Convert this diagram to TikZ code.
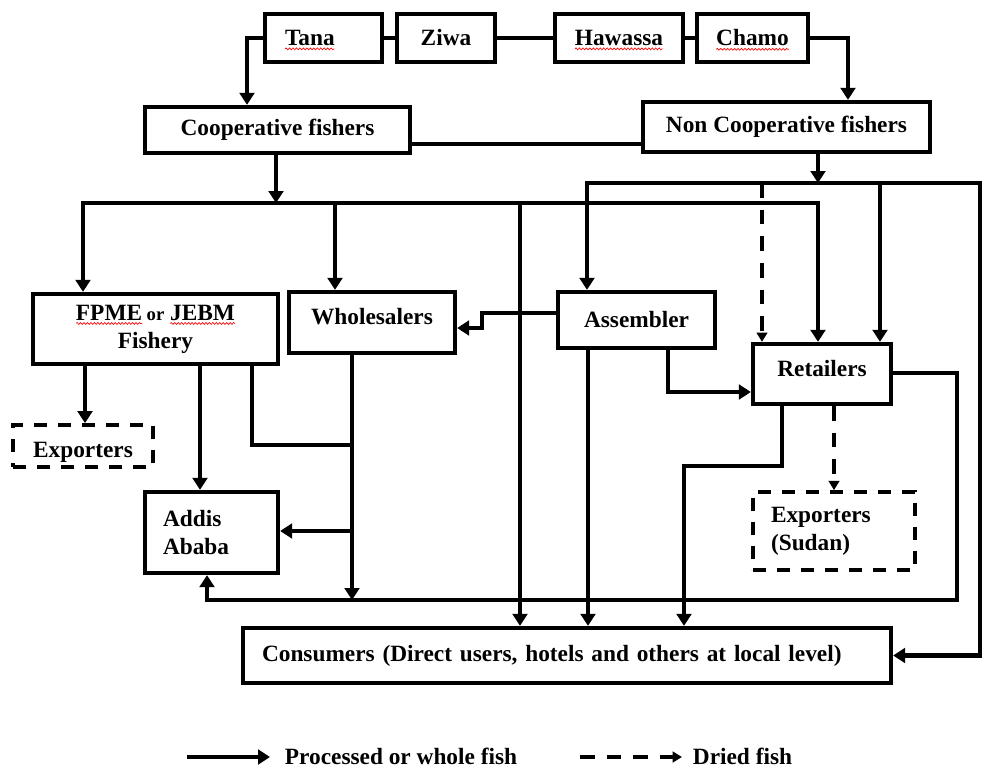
\documentclass[tikz,border=0pt]{standalone}
\usepackage{fontspec}
\setmainfont{Liberation Serif}
\usetikzlibrary{arrows.meta,decorations.pathmorphing}

% red spell-check wave under a word
\newcommand\spellwave[1]{\tikz[baseline=(sw.base)]{%
  \node[inner sep=0pt, outer sep=0pt, minimum width=0pt, minimum height=0pt,
    text width=, text height=, text depth=, align=none, draw=none] (sw) {#1};
  \draw[overlay, red, line width=0.5pt, solid,
    decorate, decoration={snake, amplitude=0.7pt, segment length=2.6pt}]
    ([yshift=-2.5pt]sw.base west) -- ([yshift=-2.5pt]sw.base east);}}

\begin{document}
\begin{tikzpicture}[
    x=0.75pt, y=-0.75pt,
    every node/.style = {
      font=\fontsize{17.5}{21}\selectfont\bfseries,
      align=center,
      inner sep=2pt
    },
    box/.style 2 args = {
      shape=rectangle,
      sharp corners,
      draw,
      line width=3.2pt,
      minimum width=#1*0.75pt,
      minimum height=#2*0.75pt
    },
    dbox/.style 2 args = {
      box={#1}{#2},
      line width=2.8pt,
      dash pattern=on 10pt off 8pt
    },
    hi/.style = {text height=12pt, text depth=9pt},
    ln/.style = {line width=3.2pt},
    arr/.style = {ln, -{Triangle[length=9pt,width=11pt]}},
    arrtwo/.style = {ln, {Triangle[length=9pt,width=11pt]}-{Triangle[length=9pt,width=11pt]}},
    darr/.style = {line width=2.6pt, dash pattern=on 11pt off 9pt,
      -{Triangle[length=7pt,width=8pt]}}
  ]
    \useasboundingbox (0,0) rectangle (982,767);

    % Lakes
    \node[box={117}{48}, align=left, text width=57.75pt] (tana) at (323.5,38) {\spellwave{Tana}};
    \node[box={98}{48}] (ziwa) at (446,38) {Ziwa};
    \node[box={128}{48}] (hawassa) at (619,38) {\spellwave{Hawassa}};
    \node[box={111}{48}] (chamo) at (752.5,38) {\spellwave{Chamo}};

    % Fishers
    \node[box={265}{46}] (coop) at (277.5,130) {Cooperative fishers};
    \node[box={287}{50}] (noncoop) at (786.5,127) {Non Cooperative fishers};

    % Traders
    \node[box={245}{70}] (fpme) at (155.5,329)
      {{\fontsize{14}{17}\selectfont\spellwave{FPME}\ or} \spellwave{JEBM}\\ Fishery};
    \node[box={166}{61}, hi] (whole) at (372,322.5) {Wholesalers};
    \node[box={157}{56}] (assem) at (636.5,320) {Assembler};
    \node[box={138}{60}, hi] (retail) at (822,374) {Retailers};

    % Destinations
    \node[dbox={140}{42}, text height=16.5pt, text depth=0pt] (explt) at (83,446) {Exporters};
    \node[box={133}{81}, align=left, text width=72.75pt] (addis) at (211.5,532.5) {Addis\\ Ababa};
    \node[dbox={162}{78}, align=left, text width=94.5pt] (expsd) at (834,531) {Exporters\\ (Sudan)};
    \node[box={648}{55}, align=left, text width=457.5pt] (consum) at (567,655.5)
      {Consumers (Direct users, hotels and others at local level)};

    % Legend
    \node[anchor=base west] (lgsolid) at (282,764) {Processed or whole fish};
    \node[anchor=base west] (lgdash) at (690,764) {Dried fish};
    \coordinate (lgs0) at (187,757);
    \coordinate (lgd0) at (580,757);

    % Bends and buses
    \coordinate (bus1) at (276,203);
    \coordinate (b1l) at (83,203);
    \coordinate (b1r) at (818,203);
    \coordinate (bus2) at (818,183);
    \coordinate (b2l) at (587,183);
    \coordinate (b2r) at (980,183);
    \coordinate (wj) at (352,600);

    % Lakes to fishers
    \draw[ln] (tana) -- (ziwa);
    \draw[ln] (ziwa) -- (hawassa);
    \draw[ln] (hawassa) -- (chamo);
    \draw[arr] (tana.west) -| (coop.north -| 247,0);
    \draw[arr] (chamo.east) -| (noncoop.north -| 848,0);
    \draw[ln] (coop.east |- 0,144) -- (noncoop.west |- 0,144);

    % Cooperative fishers channel
    \draw[arr] (coop.south -| bus1) -- (bus1);
    \draw[arrtwo] (fpme.north -| b1l) -- (b1l) -- (b1r) -- (retail.north -| b1r);
    \draw[arr] (bus1 -| 335,0) -- (whole.north -| 335,0);
    \draw[arr] (bus1 -| 520,0) -- (consum.north -| 520,0);

    % Non cooperative fishers channel
    \draw[arr] (noncoop.south -| bus2) -- (bus2);
    \draw[arrtwo] (assem.north -| b2l) -- (b2l) -- (b2r) |- (consum.east);
    \draw[arr] (bus2 -| 880,0) -- (retail.north -| 880,0);
    \draw[darr] (bus2 -| 762,0) -- (retail.north -| 762,0);

    % Assembler
    \draw[arr] (assem.west |- 0,313) -| (482,328) -- (whole.east |- 0,328);
    \draw[arr] (assem.south -| 668,0) |- (retail.west |- 0,392);
    \draw[arr] (assem.south -| 588,0) -- (consum.north -| 588,0);

    % Retailers
    \draw[arr] (retail.south -| 782,0) -- (782,466) -| (consum.north -| 684,0);
    \draw[darr] (retail.south -| 834,0) -- (expsd.north -| 834,0);
    \draw[arr] (retail.east |- 0,373) -| (957,600) -| (addis.south -| 207,0);

    % FPME and wholesalers
    \draw[arr] (fpme.south -| 85,0) -- (explt.north -| 85,0);
    \draw[arr] (fpme.south -| 200,0) -- (addis.north -| 200,0);
    \draw[ln] (fpme.south -| 252,0) |- (wj |- 0,445);
    \draw[arr] (whole.south -| wj) -- (wj);
    \draw[arr] (wj |- 0,531) -- (addis.east |- 0,531);

    % Legend arrows
    \draw[arr] (lgs0) -- ([xshift=-9pt]lgsolid.west |- lgs0);
    \draw[darr] (lgd0) -- ([xshift=-6pt]lgdash.west |- lgd0);
\end{tikzpicture}
\end{document}
